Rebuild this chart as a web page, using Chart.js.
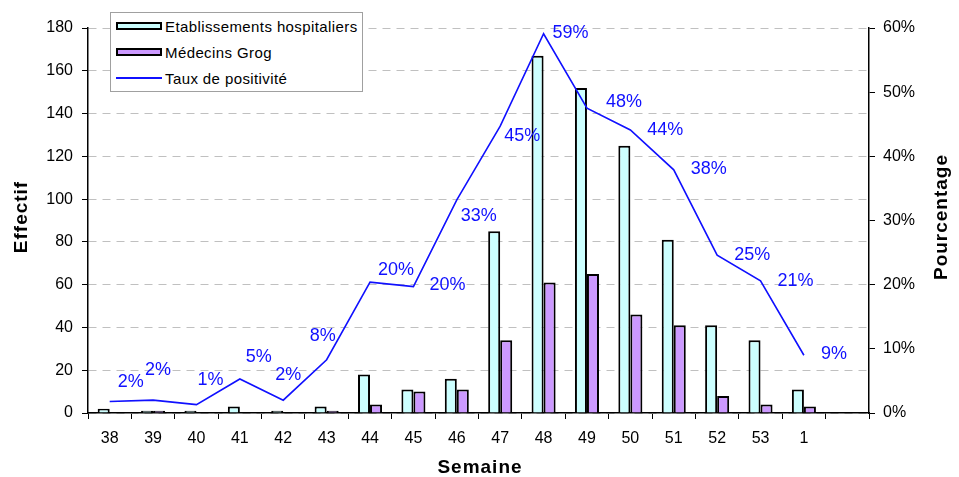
<!DOCTYPE html>
<html>
<head>
<meta charset="utf-8">
<script src="https://cdn.jsdelivr.net/npm/chart.js@4.4.1/dist/chart.umd.min.js"></script>
<style>
  body { margin: 0; background: #fff; }
  #wrap { position: relative; width: 959px; height: 477px; }
  #legend {
    position: absolute; left: 110px; top: 12px; width: 253px; height: 80px;
    box-sizing: border-box; border: 1px solid #a0a0a0; background: #fff;
    font: 15px "Liberation Sans", Arial, sans-serif; letter-spacing: 0.4px; color: #000;
  }
  .row { display: flex; align-items: center; height: 26px; }
  .sw { margin-left: 5px; width: 46px; height: 8px; box-sizing: border-box; border: 2px solid #000; }
  .ln { margin-left: 5px; width: 46px; height: 0; border-top: 2px solid #1010ff; }
  .row span { margin-left: 3px; }
</style>
</head>
<body>
<div id="wrap">
  <canvas id="chart" width="959" height="477"></canvas>
  <div id="legend">
    <div class="row"><div class="sw" style="background:#ccffff"></div><span>Etablissements hospitaliers</span></div>
    <div class="row"><div class="sw" style="background:#cc99ff"></div><span>Médecins Grog</span></div>
    <div class="row"><div class="ln"></div><span>Taux de positivité</span></div>
  </div>
</div>
<script>
const semaines = ["38", "39", "40", "41", "42", "43", "44", "45", "46", "47", "48", "49", "50", "51", "52", "53", "1", ""];
const etablissements = [2, 1, 1, 3, 1, 3, 18, 11, 16, 85, 167, 152, 125, 81, 41, 34, 11];
const medecins = [0, 1, 0, 0, 0, 1, 4, 10, 11, 34, 61, 65, 46, 41, 8, 4, 3];
const taux = [1.8, 2.0, 1.3, 5.3, 2.0, 8.3, 20.4, 19.7, 33.2, 44.7, 59.1, 47.5, 44.1, 37.9, 24.6, 20.6, 9.0];
const effectifTicks = { min: 0, max: 180, step: 20 };
const pctTicks = { min: 0, max: 60, step: 10 };

// where each % label sits relative to its point (hand-placed in the original)
const labelShift = [[21, -19], [5, -30], [14, -25], [19, -22], [5, -25], [-4, -24], [26, -12], [34, -2],
  [22, 16], [22, 10], [27, -1], [37, -6], [35, 0], [35, -1], [35, 0], [35, 0], [30, -1]];

const FONT = "'Liberation Sans', Arial, sans-serif";
const BLUE = "#1010ff";

const pctLabels = {
  id: "pctLabels",
  afterDatasetsDraw(chart) {
    const ctx = chart.ctx;
    const meta = chart.getDatasetMeta(2);
    ctx.save();
    ctx.font = "18px " + FONT;
    ctx.fillStyle = BLUE;
    ctx.textAlign = "center";
    ctx.textBaseline = "middle";
    meta.data.forEach((pt, i) => {
      const [dx, dy] = labelShift[i];
      ctx.fillText(Math.round(taux[i]) + "%", pt.x + dx, pt.y + dy);
    });
    ctx.restore();
  }
};

function title(ctx, text, x, y, rot) {
  ctx.save();
  ctx.font = "bold 19px " + FONT;
  ctx.letterSpacing = "1px";
  ctx.fillStyle = "#000";
  ctx.textAlign = "center";
  ctx.textBaseline = "middle";
  ctx.translate(x, y);
  if (rot) ctx.rotate(rot);
  ctx.fillText(text, 0, 0);
  ctx.restore();
}

const axisTitles = {
  id: "axisTitles",
  afterDraw(chart) {
    const ctx = chart.ctx;
    title(ctx, "Semaine", 480, 468, 0);
    title(ctx, "Effectif", 22, 217, -Math.PI / 2);
    title(ctx, "Pourcentage", 942, 217, -Math.PI / 2);
  }
};

const tickFont = { size: 16, family: FONT };

new Chart(document.getElementById("chart"), {
  type: "bar",
  data: {
    labels: semaines,
    datasets: [
      {
        label: "Etablissements hospitaliers",
        data: etablissements,
        backgroundColor: "#ccffff",
        borderColor: "#000",
        borderWidth: 2,
        categoryPercentage: 0.554,
        barPercentage: 1,
        yAxisID: "y",
        order: 1
      },
      {
        label: "Médecins Grog",
        data: medecins,
        backgroundColor: "#cc99ff",
        borderColor: "#000",
        borderWidth: 2,
        categoryPercentage: 0.554,
        barPercentage: 1,
        yAxisID: "y",
        order: 1
      },
      {
        type: "line",
        label: "Taux de positivité",
        data: taux,
        borderColor: BLUE,
        borderWidth: 1.6,
        pointRadius: 0,
        tension: 0,
        fill: false,
        yAxisID: "y1",
        order: 0
      }
    ]
  },
  options: {
    responsive: false,
    animation: false,
    devicePixelRatio: 1,
    layout: { padding: { top: 28, left: 0, right: 0, bottom: 0 } },
    plugins: { legend: { display: false }, tooltip: { enabled: false } },
    scales: {
      x: {
        afterFit: s => { s.height = 64; },
        grid: { offset: true, drawOnChartArea: false, color: "#000", tickLength: 6 },
        border: { color: "#000", width: 1.5 },
        ticks: { color: "#000", font: tickFont, padding: 10, maxRotation: 0 }
      },
      y: {
        position: "left",
        min: effectifTicks.min,
        max: effectifTicks.max,
        afterFit: s => { s.width = 88; },
        grid: { color: "#c0c0c0", tickColor: "#000", tickLength: 6, lineWidth: 1 },
        border: { color: "#000", width: 1.5, dash: [8, 6] },
        ticks: { stepSize: effectifTicks.step, color: "#000", font: tickFont, padding: 9 }
      },
      y1: {
        position: "right",
        min: pctTicks.min,
        max: pctTicks.max,
        afterFit: s => { s.width = 90; },
        grid: { drawOnChartArea: false, color: "#000", tickLength: 6 },
        border: { color: "#000", width: 1.5 },
        ticks: { stepSize: pctTicks.step, color: "#000", font: tickFont, padding: 8, callback: v => v + "%" }
      }
    }
  },
  plugins: [pctLabels, axisTitles]
});
</script>
</body>
</html>
